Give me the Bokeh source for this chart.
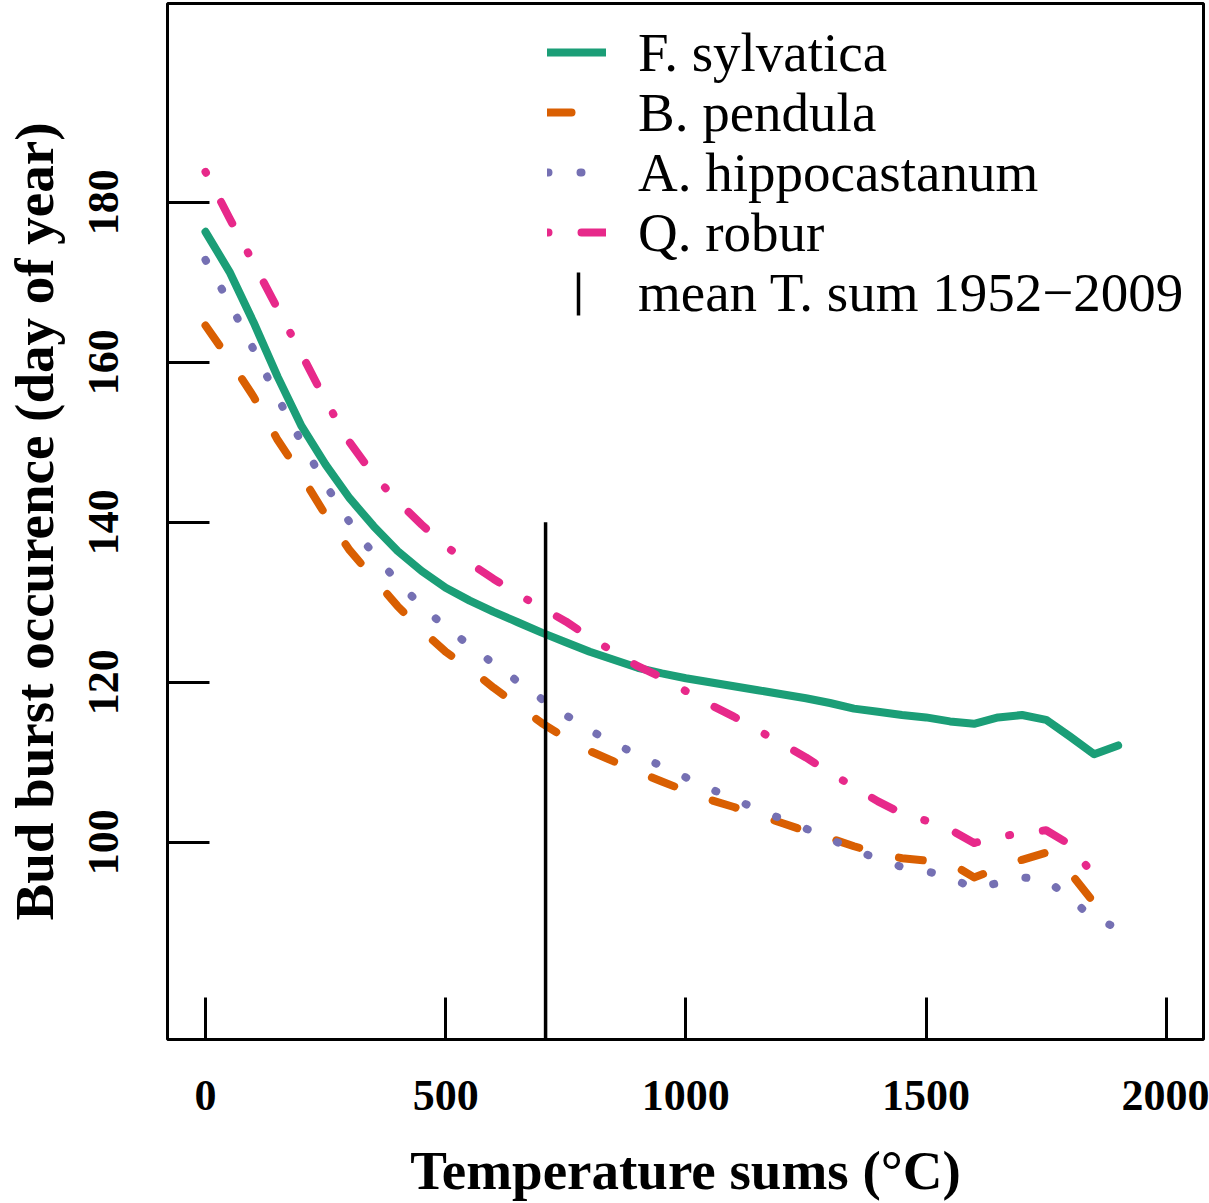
from bokeh.plotting import figure
from bokeh.models import Range1d, FixedTicker, Legend, LegendItem, Arrow
from bokeh.embed import file_html
from bokeh.resources import INLINE

# ---------------- data ----------------
temp_sum = [0, 50, 100, 150, 200, 250, 300, 350, 400, 450, 500, 550, 600, 650,
            700, 750, 800, 850, 900, 950, 1000, 1050, 1100, 1150, 1200, 1250,
            1300, 1350, 1400, 1450, 1500, 1550, 1600, 1650, 1700, 1750, 1800,
            1850, 1900]

f_sylvatica = [176.3, 171.3, 165.0, 158.2, 152.0, 147.2, 143.0, 139.5, 136.4,
               133.9, 131.8, 130.2, 128.8, 127.5, 126.2, 125.0, 123.8, 122.8,
               121.8, 121.1, 120.5, 120.0, 119.5, 119.0, 118.5, 118.0, 117.4,
               116.7, 116.3, 115.9, 115.6, 115.1, 114.8, 115.6, 115.9, 115.3,
               113.2, 111.0, 112.1]

b_pendula = [164.6, 160.3, 155.7, 150.3, 145.8, 140.9, 136.5, 133.0, 129.5,
             126.5, 123.8, 121.7, 119.3, 117.1, 114.9, 113.0, 111.4, 110.1,
             108.8, 107.6, 106.4, 105.3, 104.4, 103.4, 102.4, 101.4, 100.5,
             99.5, 98.6, 98.0, 97.7, 97.4, 95.6, 96.7, 97.8, 98.7, 96.2, 92.4,
             93.4]

a_hippocastanum = [172.8, 167.4, 161.6, 155.6, 150.0, 144.7, 140.0, 136.0,
                   132.6, 129.5, 126.9, 124.6, 122.3, 120.1, 117.9, 115.9,
                   114.0, 112.4, 110.9, 109.5, 108.1, 106.7, 105.4, 104.1,
                   102.9, 101.7, 100.4, 99.1, 97.9, 96.9, 96.4, 95.6, 94.2,
                   94.9, 95.6, 95.3, 93.0, 90.4, 89.3]

q_robur = [183.8, 178.0, 172.4, 166.7, 161.0, 155.2, 150.0, 145.9, 142.6,
           139.7, 137.0, 134.9, 132.9, 131.0, 129.3, 127.6, 125.6, 123.8,
           122.0, 120.6, 118.9, 117.2, 115.7, 114.0, 112.3, 110.6, 108.7,
           106.9, 105.1, 103.6, 102.7, 101.6, 99.9, 100.7, 101.1, 101.5,
           99.7, 95.8]

mean_tsum = 708          # mean temperature sum 1952-2009
mean_line_top = 140

x_ticks = [0, 500, 1000, 1500, 2000]
y_ticks = [100, 120, 140, 160, 180]

series_names = ["F. sylvatica", "B. pendula", "A. hippocastanum", "Q. robur"]
mean_label = "mean T. sum 1952\u22122009"
x_title = "Temperature sums (\u00b0C)"
y_title = "Bud burst occurence (day of year)"

# ---------------- styling ----------------
FONT = "Liberation Serif"
C_GREEN, C_ORANGE, C_PURPLE, C_PINK = "#1B9E77", "#D95F02", "#7570B3", "#E7298A"
LW = 8

p = figure(width=1209, height=1203, output_backend="svg", toolbar_location=None,
           x_range=Range1d(-79.1, 2077.7), y_range=Range1d(75.34, 204.84),
           min_border_left=167, min_border_right=6, min_border_top=3,
           min_border_bottom=164)
p.grid.visible = False
p.background_fill_color = "white"
p.border_fill_color = "white"
p.outline_line_color = "black"
p.outline_line_width = 3

common = dict(line_width=LW, line_cap="round", line_join="round")
r1 = p.line(temp_sum, f_sylvatica, line_color=C_GREEN, **common)
r2 = p.line(temp_sum, b_pendula, line_color=C_ORANGE, line_dash="24 41", **common)
r3 = p.line(temp_sum, a_hippocastanum, line_color=C_PURPLE, line_dash="1 32", **common)
r4 = p.line(temp_sum[:len(q_robur)], q_robur, line_color=C_PINK,
            line_dash="1 33 24 33", **common)
p.segment(x0=[mean_tsum], y0=[0], x1=[mean_tsum], y1=[mean_line_top],
          line_color="black", line_width=3.5)
dummy = p.line(x=[float("nan")], y=[float("nan")], line_alpha=0)

for ax in (p.xaxis, p.yaxis):
    ax.axis_line_color = None
    ax.major_tick_in = 42
    ax.major_tick_out = 0
    ax.major_tick_line_width = 3
    ax.major_tick_line_color = "black"
    ax.minor_tick_line_color = None
    ax.major_label_text_font = FONT
    ax.major_label_text_font_size = "44px"
    ax.major_label_text_font_style = "bold"
    ax.major_label_text_color = "black"
    ax.axis_label_text_font = FONT
    ax.axis_label_text_font_size = "55px"
    ax.axis_label_text_font_style = "bold"
    ax.axis_label_text_color = "black"

p.xaxis.ticker = FixedTicker(ticks=x_ticks)
p.yaxis.ticker = FixedTicker(ticks=y_ticks)
p.xaxis.major_label_standoff = 41
p.yaxis.major_label_standoff = 49
p.yaxis.major_label_orientation = "vertical"
p.xaxis.axis_label = x_title
p.yaxis.axis_label = y_title
p.xaxis.axis_label_standoff = 27
p.yaxis.axis_label_standoff = 22

# one legend box per row, so the rows keep the reference's 60 px pitch
legend_rows = [(series_names[0], r1), (series_names[1], r2),
               (series_names[2], r3), (series_names[3], r4),
               (mean_label, dummy)]
for i, (lab, rend) in enumerate(legend_rows):
    row_bottom = 53 + 60 * i + 31.5          # page px of the row's lower edge
    p.add_layout(Legend(items=[LegendItem(label=lab, renderers=[rend])],
                        location=(380, 1040 - row_bottom), orientation="vertical",
                        glyph_width=59, glyph_height=60, label_height=60,
                        label_standoff=32, spacing=0, padding=0, margin=0,
                        border_line_color=None, background_fill_alpha=0,
                        label_text_font=FONT, label_text_font_size="55px",
                        label_text_color="black"))

# vertical bar symbol of the legend's last entry
p.add_layout(Arrow(x_start=411, y_start=767, x_end=411, y_end=724,
                   start_units="screen", end_units="screen", start=None, end=None,
                   line_color="black", line_width=3.5))

open("out.html", "w").write(file_html(p, INLINE, "Bud burst"))
